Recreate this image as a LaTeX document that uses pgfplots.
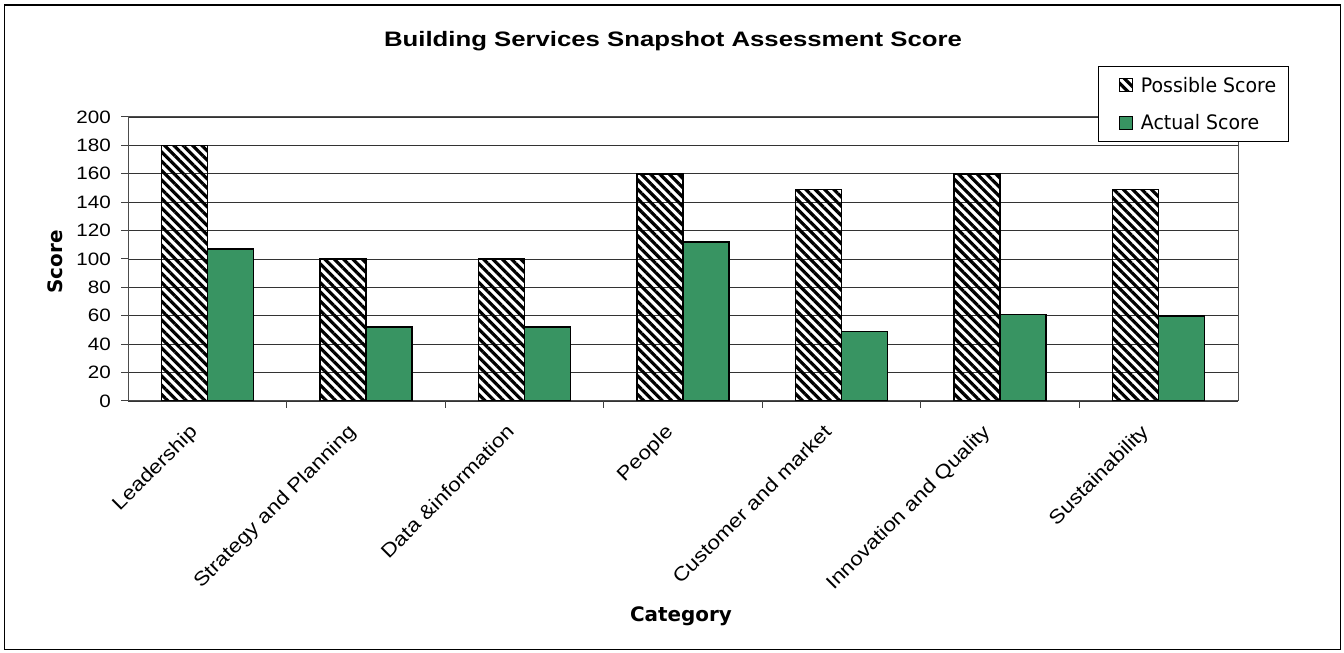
\documentclass[border=0pt]{standalone}
\usepackage{fontspec}
\setmainfont{Liberation Sans}
\newfontfamily\tickfont[FakeStretch=1.15]{Liberation Sans}
\newfontfamily\titlefont[FakeStretch=1.23]{Liberation Sans}
\newfontfamily\dvfont{DejaVu Sans}
\newfontfamily\dvcfont[FakeStretch=0.95]{DejaVu Sans}
\usepackage{pgfplots}
\pgfplotsset{compat=1.18}
\usepackage{pgfplotstable}
\usetikzlibrary{patterns.meta}
\definecolor{actgreen}{RGB}{56,148,98}
\pgfplotstableread{
idx poss act
0 180 107
1 100 52
2 100 52
3 160 112
4 149 49
5 160 61
6 149 60
}\scores
\begin{document}
\begin{tikzpicture}[x=1bp,y=1bp]
\useasboundingbox (0,0) rectangle (1344,653);
\draw[line width=1.5bp] (4.5,3.5) rectangle (1340.5,648);
\begin{axis}[
  at={(128bp,252bp)}, anchor=south west,
  scale only axis, width=1110bp, height=284bp,
  xmin=-0.5, xmax=6.5, ymin=0, ymax=200,
  ytick={0,20,...,200},
  xtick={0,...,6},
  xtick pos=bottom, ytick pos=left,
  xticklabels={Leadership,Strategy and Planning,Data \&information,People,Customer and market,Innovation and Quality,Sustainability},
  minor xtick={0.5,1.5,...,5.5},
  xticklabel style={rotate=45, anchor=north east, font=\tickfont\fontsize{19.5}{19.5}\selectfont, inner sep=2bp, xshift=-22bp, yshift=5bp},
  yticklabel style={font=\tickfont\fontsize{18}{18}\selectfont, inner sep=3bp, xshift=-7bp},
  /pgf/number format/assume math mode=true,
  tick align=outside,
  major x tick style={draw=none},
  minor x tick style={black!75, line width=1bp},
  major y tick style={black!75, line width=1bp},
  major tick length=7bp, minor tick length=7bp,
  axis line style={black!70, line width=1bp},
  ymajorgrids, grid style={black!80, line width=0.9bp},
  ybar=0pt, bar width=46bp,
  legend style={at={(rel axis cs:0.874,1.18)}, anchor=north west, draw=black, line width=1bp,
    font=\dvcfont\fontsize{20}{20}\selectfont, inner xsep=10bp, inner ysep=8.5bp, row sep=17bp,
    /tikz/every odd column/.append style={column sep=6bp}},
  legend cell align=left,
  legend image code/.code={\path (0bp,0bp); \draw[#1, line width=1bp] (10bp,-6.5bp) rectangle (23bp,6.5bp);},
]
\addplot[draw=black, line width=1.5bp, pattern={Lines[angle=-45, distance=6.6bp, line width=3.2bp]}] table[x=idx, y=poss] {\scores};
\addlegendentry{Possible Score}
\addplot[draw=black, line width=1.5bp, fill=actgreen] table[x=idx, y=act] {\scores};
\addlegendentry{Actual Score}
\end{axis}
\node[font=\titlefont\bfseries\fontsize{21}{21}\selectfont] at (673,612) {Building Services Snapshot Assessment Score};
\node[font=\dvfont\bfseries\fontsize{20}{20}\selectfont] at (681,37) {Category};
\node[font=\dvfont\bfseries\fontsize{20}{20}\selectfont, rotate=90] at (55,391) {Score};
\end{tikzpicture}
\end{document}
